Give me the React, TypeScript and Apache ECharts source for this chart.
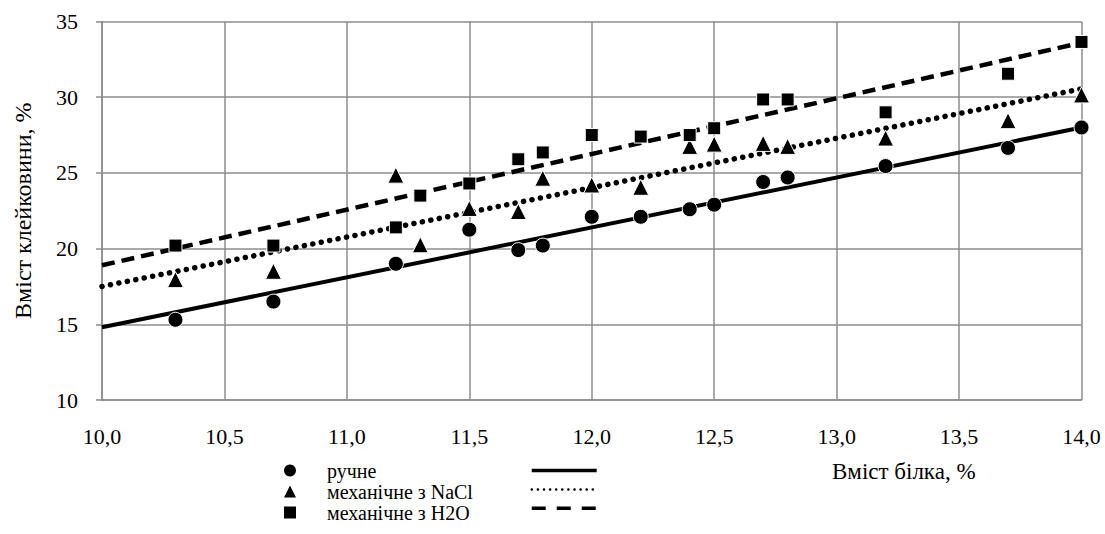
import React, { useEffect, useRef } from "react";
import * as echarts from "echarts";

const xTicks = ["10,0", "10,5", "11,0", "11,5", "12,0", "12,5", "13,0", "13,5", "14,0"];

const manualX = [10.3, 10.7, 11.2, 11.5, 11.7, 11.8, 12.0, 12.2, 12.4, 12.5, 12.7, 12.8, 13.2, 13.7, 14.0];
const manualY = [15.3, 16.5, 19.0, 21.25, 19.9, 20.2, 22.1, 22.1, 22.6, 22.9, 24.4, 24.7, 25.45, 26.65, 28.0];

const naclX = [10.3, 10.7, 11.2, 11.3, 11.5, 11.7, 11.8, 12.0, 12.2, 12.4, 12.5, 12.7, 12.8, 13.2, 13.7, 14.0];
const naclY = [17.95, 18.5, 24.85, 20.25, 22.65, 22.45, 24.65, 24.2, 24.05, 26.75, 26.9, 26.95, 26.75, 27.3, 28.45, 30.15];

const waterX = [10.3, 10.7, 11.2, 11.3, 11.5, 11.7, 11.8, 12.0, 12.2, 12.4, 12.5, 12.7, 12.8, 13.2, 13.7, 14.0];
const waterY = [20.2, 20.2, 21.4, 23.5, 24.3, 25.9, 26.35, 27.5, 27.4, 27.5, 27.95, 29.85, 29.85, 29.0, 31.55, 33.65];

const trendX = [10.0, 14.0];
const manualTrend = [14.8, 28.0];
const naclTrend = [17.5, 30.55];
const waterTrend = [18.9, 33.6];

const names = ["ручне", "механічне з NaCl", "механічне з H2O"];
const trendNames = ["ручне — лінія", "механічне з NaCl — лінія", "механічне з H2O — лінія"];

const zip = (xs: number[], ys: number[]) => xs.map((x, i) => [x, ys[i]]);

const FONT = "'Liberation Serif', 'Times New Roman', serif";
const GRID = "#8c8c8c";

export default function App() {
  const ref = useRef<HTMLDivElement>(null);
  useEffect(() => {
    if (!ref.current) return;
    const chart = echarts.init(ref.current, undefined, { renderer: "svg" });
    const scatterBase = {
      type: "scatter",
      itemStyle: { color: "#000", borderColor: "#fff", borderWidth: 1, opacity: 1 },
      z: 5,
    };
    const lineBase = { type: "line", symbol: "none", z: 3, itemStyle: { color: "#000" } };
    chart.setOption({
      animation: false,
      textStyle: { fontFamily: FONT },
      grid: { left: 102, right: 23.5, top: 21.5, bottom: 134 },
      xAxis: {
        type: "value",
        min: 10,
        max: 14,
        interval: 0.5,
        axisLine: { show: true, lineStyle: { color: GRID, width: 1.5 } },
        axisTick: { show: false },
        splitLine: { show: true, lineStyle: { color: GRID, width: 1.5 } },
        axisLabel: {
          color: "#000",
          fontSize: 22,
          fontFamily: FONT,
          margin: 25,
          formatter: (v: number) => xTicks[Math.round((v - 10) / 0.5)] ?? "",
        },
      },
      yAxis: {
        type: "value",
        min: 10,
        max: 35,
        interval: 5,
        name: "Вміст клейковини, %",
        nameLocation: "middle",
        nameGap: 67,
        nameTextStyle: { color: "#000", fontSize: 24, fontFamily: FONT },
        axisLine: { show: true, lineStyle: { color: GRID, width: 1.5 } },
        axisTick: { show: true, length: 6, lineStyle: { color: GRID, width: 1.5 } },
        splitLine: { show: true, lineStyle: { color: GRID, width: 1.5 } },
        axisLabel: { color: "#000", fontSize: 22, fontFamily: FONT, margin: 24 },
      },
      legend: [
        {
          orient: "vertical",
          left: 279,
          top: 455,
          itemWidth: 12,
          itemHeight: 12,
          itemGap: 0,
          data: [
            { name: names[0], icon: "circle" },
            { name: names[1], icon: "triangle" },
            { name: names[2], icon: "rect" },
          ],
          itemStyle: { borderWidth: 0 },
          textStyle: { color: "#000", fontSize: 20, lineHeight: 21, fontFamily: FONT, padding: [0, 0, 0, 26] },
          selectedMode: false,
        },
        {
          orient: "vertical",
          left: 525,
          top: 455,
          itemWidth: 65,
          itemHeight: 21,
          itemGap: 0,
          data: [
            { name: trendNames[0], lineStyle: { width: 3.5 } },
            { name: trendNames[1], lineStyle: { width: 2.5, type: [0.1, 6], cap: "round" } },
            { name: trendNames[2], lineStyle: { width: 3.5, type: [14, 11] } },
          ],
          formatter: () => "",
          itemStyle: { opacity: 0 },
          textStyle: { fontSize: 1 },
          selectedMode: false,
        },
      ],
      graphic: [
        {
          type: "text",
          left: 832,
          top: 460,
          style: { text: "Вміст білка, %", fill: "#000", fontSize: 23, fontFamily: FONT },
        },
      ],
      series: [
        { ...lineBase, name: trendNames[0], data: zip(trendX, manualTrend), lineStyle: { color: "#000", width: 4 } },
        {
          ...lineBase,
          name: trendNames[1],
          data: zip(trendX, naclTrend),
          lineStyle: { color: "#000", width: 5.5, type: [0.1, 8.5], cap: "round" },
        },
        {
          ...lineBase,
          name: trendNames[2],
          data: zip(trendX, waterTrend),
          lineStyle: { color: "#000", width: 4.5, type: [13, 7] },
        },
        { ...scatterBase, name: names[0], symbol: "circle", symbolSize: 15, data: zip(manualX, manualY) },
        { ...scatterBase, name: names[1], symbol: "triangle", symbolSize: 16, data: zip(naclX, naclY) },
        { ...scatterBase, name: names[2], symbol: "rect", symbolSize: 13, data: zip(waterX, waterY) },
      ],
    });
    return () => chart.dispose();
  }, []);
  return (
    <div
      ref={ref}
      style={{ position: "fixed", left: 0, top: 0, width: 1105, height: 534, background: "#fff" }}
    />
  );
}
